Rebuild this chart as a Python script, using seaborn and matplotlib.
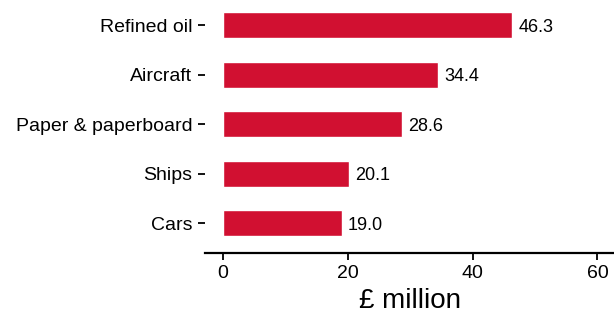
import matplotlib
matplotlib.use("Agg")
import matplotlib.pyplot as plt
import seaborn as sns
import pandas as pd

categories = ["Refined oil", "Aircraft", "Paper & paperboard", "Ships", "Cars"]
values = [46.3, 34.4, 28.6, 20.1, 19.0]

df = pd.DataFrame({"product": categories, "value": values})

sns.set_style("white")
plt.rcParams["font.family"] = ["Liberation Sans", "DejaVu Sans"]

fig = plt.figure(figsize=(6.14, 3.17), dpi=100)
ax = fig.add_axes([0.334, 0.202, 0.70, 0.796])

sns.barplot(data=df, y="product", x="value", orient="h", color="#D11031",
            width=0.53, saturation=1, ax=ax)

for i, v in enumerate(values):
    ax.text(v + 1.0, i, f"{v:.1f}", va="center_baseline", ha="left", fontsize=13, color="black")

ax.set_xlim(-2.9, 66)
ax.set_ylim(4.6, -0.5)
ax.set_xticks([0, 20, 40, 60])
ax.set_xlabel("£ million", fontsize=20, color="black")
ax.set_ylabel("")
ax.xaxis.set_label_coords((409.5 - 205) / (0.70 * 614), -0.14)

sns.despine(ax=ax, left=True)
ax.spines["bottom"].set_linewidth(1.6)
ax.spines["bottom"].set_color("black")
ax.tick_params(axis="both", which="both", length=5, width=1.3, color="black",
               labelsize=14, labelcolor="black")
ax.tick_params(axis="y", left=True, pad=4)
ax.tick_params(axis="x", bottom=True, pad=4)

fig.savefig("out.png", dpi=100)
